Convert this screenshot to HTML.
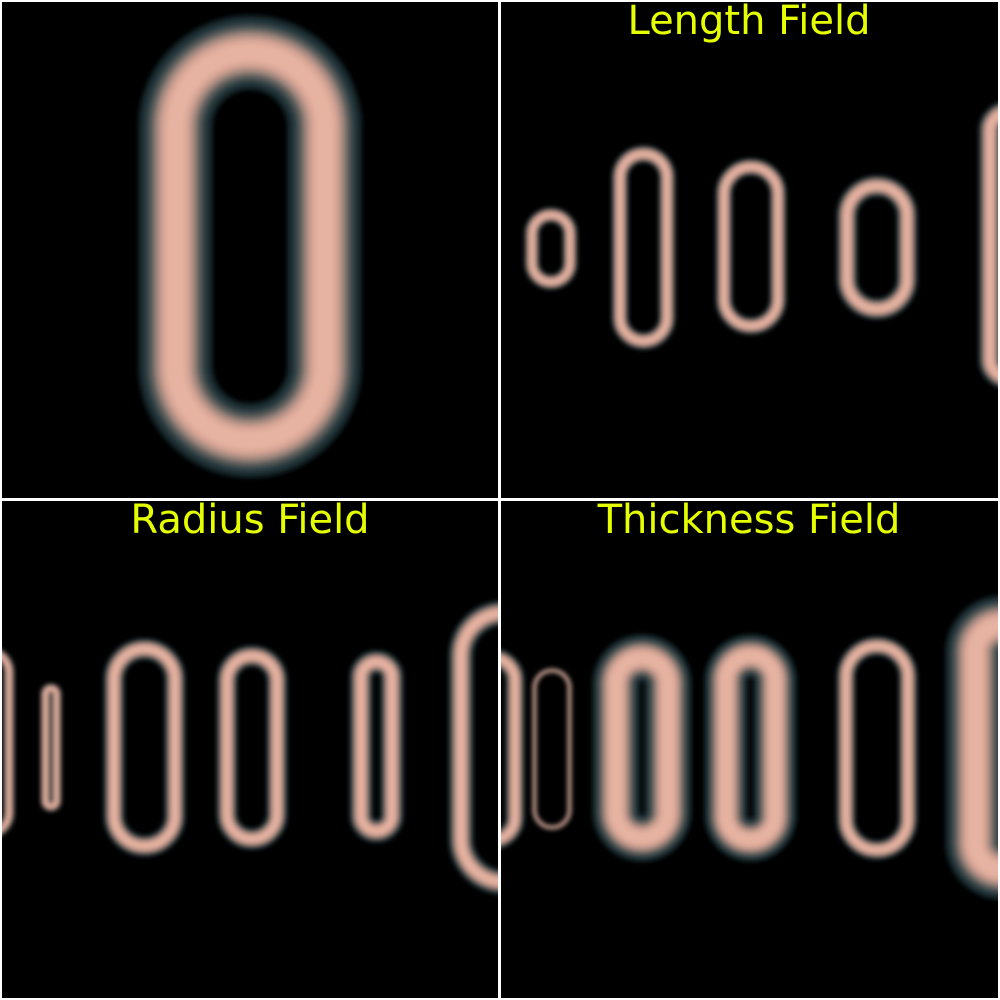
<!DOCTYPE html>
<html><head><meta charset="utf-8"><style>
html,body{margin:0;padding:0;background:#fff;}
svg{display:block;}
text{font-family:"DejaVu Sans","Liberation Sans",sans-serif;font-size:40px;fill:#e6ff00;}
</style></head><body>
<svg id="s" width="1000" height="1000" viewBox="0 0 1000 1000">
<defs>
<filter id="bl" filterUnits="userSpaceOnUse" x="-100" y="-100" width="1200" height="1200"><feGaussianBlur stdDeviation="2.5"/></filter>
<clipPath id="c0"><rect x="2" y="2" width="496" height="496"/></clipPath>
<clipPath id="c1"><rect x="501" y="2" width="497" height="496"/></clipPath>
<clipPath id="c2"><rect x="2" y="501" width="496" height="497"/></clipPath>
<clipPath id="c3"><rect x="501" y="501" width="497" height="497"/></clipPath>
</defs>
<rect x="0" y="0" width="1000" height="1000" fill="#fff"/>
<rect x="2" y="2" width="496" height="496" fill="#000"/>
<rect x="501" y="2" width="497" height="496" fill="#000"/>
<rect x="2" y="501" width="496" height="497" fill="#000"/>
<rect x="501" y="501" width="497" height="497" fill="#000"/>
<g id="g0" clip-path="url(#c0)"></g>
<g id="g1" clip-path="url(#c1)"></g>
<g id="g2" clip-path="url(#c2)"></g>
<g id="g3" clip-path="url(#c3)"></g>
<text x="749" y="34" text-anchor="middle">Length Field</text>
<text x="250" y="533" text-anchor="middle">Radius Field</text>
<text x="749" y="533" text-anchor="middle">Thickness Field</text>
</svg>
<script>
// outer bounds [left, top, right, bottom] and tube thickness per shape, per viewport
const mainShapes = [[138,15,362,478,75]];
const lengthShapes = [[524,207,578,290,16],[611,145,676,350,18],[715,158,787,335,18],[836,175,918,320,22],[978,100,1040,390,24]];
const radiusShapes = [[-40,645,15,840,12],[40,683,62,812,11],[103,638,186,857,22],[216,645,288,850,22],[349,650,404,843,24],[448,600,560,895,26]];
const thicknessShapes = [[460,648,525,850,20],[532,668,572,830,5],[592,634,692,862,48],[704,634,797,862,44],[836,636,918,860,20],[945,595,1060,900,60]];
const NS='http://www.w3.org/2000/svg';
function capsule(g, s, i, prefix){
  const [l,t,r,b,th]=s;
  const w=r-l-th, h=b-t-th, rx=Math.min(r-l,b-t)/2-th/2;
  const grp=document.createElementNS(NS,'g');
  
  
  grp.setAttribute('filter','url(#bl)');
  const layers=[[1.0,'#15262b'],[0.85,'#2c3e42'],[0.7,'#5f605d'],[0.55,'#a58a80'],[0.4,'#d6a494'],[0.25,'#e6b2a1']];
  layers.forEach(([f,c])=>{
    const rc=document.createElementNS(NS,'rect');
    rc.setAttribute('x',l+th/2);rc.setAttribute('y',t+th/2);
    rc.setAttribute('width',Math.max(w,0.1));rc.setAttribute('height',Math.max(h,0.1));
    rc.setAttribute('rx',Math.max(rx,0));rc.setAttribute('ry',Math.max(rx,0));
    rc.setAttribute('fill','none');rc.setAttribute('stroke',c);
    rc.setAttribute('stroke-width',Math.max(th*f,0.8));
    grp.appendChild(rc);
  });
  g.appendChild(grp);
}
mainShapes.forEach((s,i)=>capsule(document.getElementById('g0'),s,i,'main'));
lengthShapes.forEach((s,i)=>capsule(document.getElementById('g1'),s,i,'length'));
radiusShapes.forEach((s,i)=>capsule(document.getElementById('g2'),s,i,'radius'));
thicknessShapes.forEach((s,i)=>capsule(document.getElementById('g3'),s,i,'thickness'));
</script>
</body></html>
